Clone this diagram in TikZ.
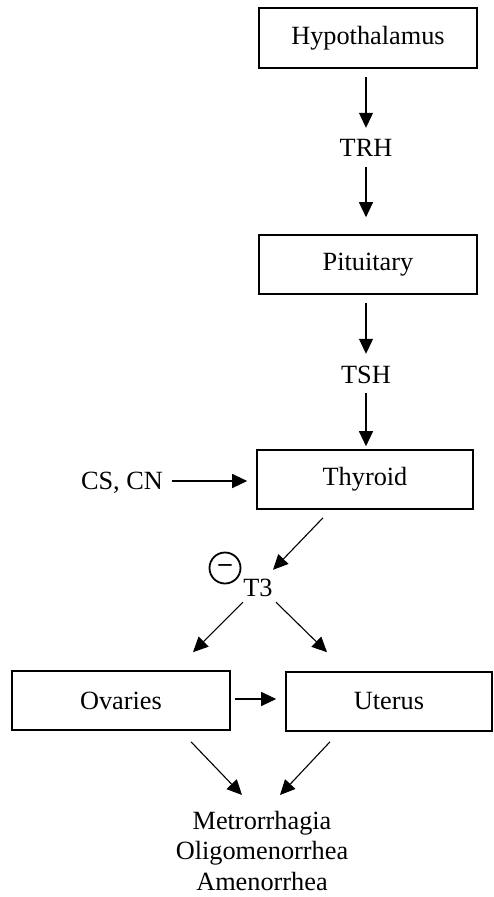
\documentclass[tikz,border=0pt]{standalone}
\usepackage{fontspec}
\setmainfont{Liberation Serif}
\usetikzlibrary{arrows.meta}
\begin{document}
\begin{tikzpicture}[x=1pt,y=-1pt,
  txt/.style={font=\fontsize{26.3}{30.5}\selectfont},
  organ/.style={txt,draw,line width=1.6pt,inner sep=0pt,minimum height=59pt},
  lbl/.style={txt,inner sep=0pt,text height=17pt,text depth=0pt},
  arr/.style={line width=1.1pt,-{Triangle[length=15pt,width=14pt]}}]
\useasboundingbox (0,0) rectangle (493,897);

% glands and target organs
\node[organ,minimum width=218pt,minimum height=60pt] (hypo) at (368,38) {Hypothalamus};
\node[organ,minimum width=218pt] (pit) at (368,264.5) {Pituitary};
\node[organ,minimum width=216pt] (thy) at (365,479.5) {Thyroid};
\node[organ,minimum width=218pt] (ova) at (121,700.5) {Ovaries};
\node[organ,minimum width=206pt] (ute) at (389,701.5) {Uterus};

% hormone and factor labels
\node[lbl] (trh) at (366,148) {TRH};
\node[lbl] (tsh) at (366,375) {TSH};
\node[lbl] (cscn) at (122,481) {CS, CN};
\node[lbl] (t3) at (258,588) {T3};
\node[draw,circle,line width=1.8pt,minimum size=31pt,inner sep=0pt,
      font=\fontsize{26}{26}\selectfont\bfseries] (neg) at (225,568) {–};
\node[txt,align=center,inner sep=0pt,anchor=north] (sym) at (262,811)
  {Metrorrhagia\\Oligomenorrhea\\Amenorrhea};

% axis
\draw[arr,shorten <=8pt,shorten >=11.5pt] (trh |- hypo.south) -- (trh.north);
\draw[arr,shorten <=10.5pt,shorten >=17pt] (trh.south) -- (trh |- pit.north);
\draw[arr,shorten <=8pt,shorten >=12.5pt] (tsh |- pit.south) -- (tsh.north);
\draw[arr,shorten <=9.5pt,shorten >=3pt] (tsh.south) -- (tsh |- thy.north);
\draw[arr,shorten <=9pt,shorten >=9pt] (cscn.east) -- (cscn.east -| thy.west);
\draw[arr] ([shift={(-42pt,-8pt)}]thy.south) -- ([shift={(15pt,9.5pt)}]t3.north);

% effects of T3
\draw[arr] ([shift={(-15pt,-5.5pt)}]t3.south) -- ([shift={(72pt,18pt)}]ova.north);
\draw[arr] ([shift={(18pt,-5.5pt)}]t3.south) -- ([shift={(-62pt,19pt)}]ute.north);
\draw[arr,shorten <=4pt,shorten >=9pt] ([yshift=1.5pt]ova.east) -- ([yshift=1.5pt]ova.east -| ute.west);

% clinical outcome
\draw[arr] ([shift={(70pt,-11pt)}]ova.south) -- ([shift={(-20pt,16pt)}]sym.north);
\draw[arr] ([shift={(-59pt,-10pt)}]ute.south) -- ([shift={(18pt,16pt)}]sym.north);
\end{tikzpicture}
\end{document}
